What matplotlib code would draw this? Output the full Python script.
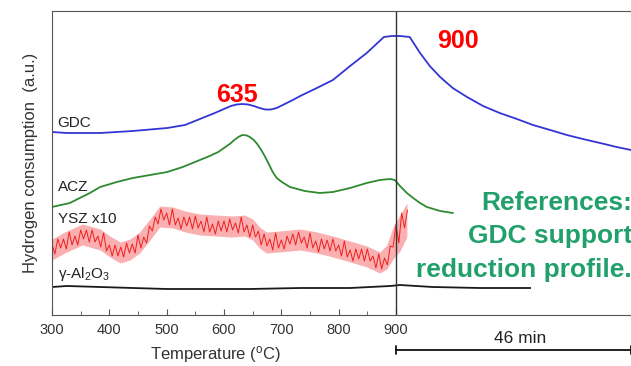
import numpy as np
import matplotlib.pyplot as plt

plt.rcParams['font.family'] = ['Liberation Sans', 'DejaVu Sans']
plt.rcParams['mathtext.fontset'] = 'custom'
plt.rcParams['mathtext.rm'] = 'Liberation Sans'
plt.rcParams['mathtext.it'] = 'Liberation Sans'

# GDC (blue); x beyond 900 is time at 900 C, drawn on the same scale
gdc_t = [300, 326, 384, 441, 501, 532, 558, 584, 600, 612, 622, 632, 642, 652, 662,
         672, 682, 692, 706, 720, 733, 762, 790, 820, 849, 879, 893, 907, 924, 942,
         959, 977, 999, 1024, 1052, 1081, 1111, 1139, 1169, 1198, 1226, 1256, 1285, 1310]
gdc_y = [183, 182, 182, 184, 187, 190, 196, 202, 206, 209, 210.5, 211, 210.5, 209, 207,
         205.5, 205.5, 207, 211, 215, 219, 227, 235, 249, 262, 278, 279, 279, 278, 262,
         249, 238, 227, 218, 209, 202, 196, 190, 185, 180, 176, 172, 168, 165]

# ACZ (green)
acz_t = [300, 331, 366, 384, 413, 441, 471, 501, 528, 558, 575, 590, 600, 610, 618,
         625, 632, 640, 645, 652, 658, 665, 672, 679, 685, 692, 701, 715, 741, 767,
         790, 820, 849, 872, 890, 898, 907, 919, 930, 942, 954, 977, 999]
acz_y = [108, 112, 122, 128, 133, 137, 140, 143, 148, 155, 159, 163, 167, 171, 175,
         178, 180, 179.5, 178, 175, 171, 165, 158, 150, 143, 137, 133, 128, 124, 122,
         123, 127, 132, 135, 136, 135, 129, 122, 117, 112, 108, 104, 102]

# YSZ x10 (red, noisy trace), sampled every 5 C from 300 to 920
ysz_t = np.arange(300, 925, 5)
ysz_y = [71, 61, 76, 67, 76, 66, 83, 70, 79, 70, 85, 76, 85, 73, 85, 73, 79, 68, 82, 64,
         70, 59, 70, 59, 68, 58, 72, 62, 71, 62, 80, 67, 78, 72, 89, 84, 98, 91, 106, 95,
         102, 90, 106, 90, 97, 86, 98, 89, 98, 86, 99, 87, 94, 83, 98, 83, 91, 81, 94, 84,
         94, 83, 96, 85, 92, 82, 98, 83, 90, 78, 90, 78, 84, 70, 81, 69, 76, 65, 82, 67,
         75, 66, 79, 71, 81, 70, 83, 72, 78, 67, 82, 67, 74, 63, 76, 66, 75, 64, 76, 64,
         70, 59, 74, 58, 65, 54, 66, 56, 66, 54, 66, 54, 59, 47, 61, 46, 57, 50, 69, 68,
         90, 72, 102, 87, 105]
# envelope of the YSZ noise band
ysz_env_t = [300, 322, 353, 384, 401, 419, 436, 453, 471, 488, 511, 532, 558, 584, 615,
             636, 650, 662, 674, 697, 733, 762, 790, 820, 849, 872, 884, 895, 907, 919]
ysz_hi = [76, 83, 91, 86, 79, 73, 76, 83, 96, 109, 108, 104, 101, 100, 99,
          100, 96, 88, 83, 84, 86, 83, 79, 74, 69, 63, 70, 88, 100, 112]
ysz_lo = [55, 62, 70, 65, 58, 52, 55, 62, 75, 88, 87, 83, 80, 79, 78,
          79, 75, 67, 62, 63, 65, 62, 58, 53, 48, 42, 46, 56, 64, 78]

# gamma-Al2O3 (black)
al_t = [300, 326, 384, 441, 501, 558, 645, 733, 820, 890, 907, 964, 1046, 1134]
al_y = [28, 29, 28, 27, 26, 26, 26, 27, 27, 29, 30, 28, 27, 27]

temp_ticks = [300, 400, 500, 600, 700, 800, 900]

fig = plt.figure(figsize=(6.31, 3.66), dpi=100)
ax = fig.add_axes([52 / 631, 51 / 366, 579 / 631, 304 / 366])

ax.plot(gdc_t, gdc_y, color='#3434d4', lw=1.3)
ax.plot(acz_t, acz_y, color='#2f8a2f', lw=1.3)
ax.fill_between(ysz_env_t, ysz_lo, ysz_hi, color='#f45050', alpha=0.45, lw=0)
ax.plot(ysz_t, ysz_y, color='#f01e1e', lw=0.7)
ax.plot(al_t, al_y, color='#1a1a1a', lw=1.3)
ax.axvline(900, color='#333333', lw=1)

ax.set_xlim(300, 1310)
ax.set_ylim(0, 304)
ax.set_xticks(temp_ticks)
ax.set_xticks(np.arange(350, 900, 100), minor=True)
ax.set_yticks([])
ax.tick_params(axis='x', which='both', direction='in', labelsize=10.5,
               labelcolor='#333333', color='#555555', pad=6)
ax.tick_params(axis='x', which='major', length=4)
ax.tick_params(axis='x', which='minor', length=3)
ax.spines['right'].set_visible(False)
for s in ['left', 'top', 'bottom']:
    ax.spines[s].set_color('#555555')

lab = dict(fontsize=11, color='#222222', va='baseline')
ax.text(310, 188, 'GDC', **lab)
ax.text(310, 124, 'ACZ', **lab)
ax.text(310, 92, 'YSZ x10', **lab)
ax.text(310, 37, r'γ-Al$_2$O$_3$', **lab)

ax.text(623, 213, '635', color='#ff0000', fontsize=18, fontweight='bold',
        ha='center', va='baseline')
ax.text(1008, 267, '900', color='#ff0000', fontsize=18, fontweight='bold',
        ha='center', va='baseline')

green = dict(color='#22a06b', fontsize=19, fontweight='bold', ha='right',
             va='baseline', clip_on=False)
ax.text(1312, 105, 'References:', **green)
ax.text(1312, 72, 'GDC support', **green)
ax.text(1312, 38, 'reduction profile.', **green)

ax.annotate('', xy=(1310, 16 / 366), xytext=(900, 16 / 366),
            xycoords=('data', 'figure fraction'), textcoords=('data', 'figure fraction'),
            arrowprops=dict(arrowstyle='|-|', color='#111111', lw=1.3,
                            mutation_scale=3, shrinkA=0, shrinkB=0))
fig.text(520 / 631, 23 / 366, '46 min', fontsize=12.5, color='#222222',
         ha='center', va='baseline')

ax.set_ylabel('Hydrogen consumption  (a.u.)', fontsize=12, color='#333333', labelpad=10)
fig.text(215 / 631, 7 / 366, r'Temperature ($^{\rm o}$C)', fontsize=12,
         color='#333333', ha='center', va='baseline')

plt.savefig('out.png', dpi=100)
